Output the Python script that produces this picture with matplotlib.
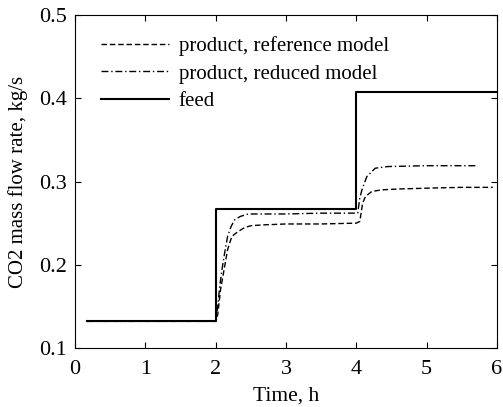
import matplotlib
matplotlib.use("Agg")
import matplotlib.pyplot as plt

plt.rcParams['font.family'] = 'Liberation Serif'
plt.rcParams['font.size'] = 15

# feed (step input)
t_feed = [0.17, 2.0, 2.0, 4.0, 4.0, 6.0]
feed = [0.132, 0.132, 0.267, 0.267, 0.408, 0.408]

# product, reference model
t_ref = [0.17, 2.0, 2.03, 2.07, 2.12, 2.17, 2.23, 2.32, 2.42, 2.51, 2.7, 3.0, 3.5, 4.0, 4.05,
         4.09, 4.13, 4.22, 4.36, 4.6, 5.0, 5.5, 5.94]
ref = [0.132, 0.132, 0.14, 0.17, 0.194, 0.218, 0.234, 0.240, 0.245, 0.247, 0.248, 0.249, 0.249,
       0.250, 0.252, 0.274, 0.282, 0.288, 0.290, 0.291, 0.292, 0.293, 0.293]

# product, reduced model
t_red = [0.17, 2.0, 2.03, 2.06, 2.09, 2.13, 2.17, 2.22, 2.27, 2.35, 2.46, 2.7, 3.0, 3.5, 4.02,
         4.05, 4.08, 4.15, 4.27, 4.45, 5.0, 5.73]
red = [0.132, 0.132, 0.15, 0.175, 0.194, 0.215, 0.234, 0.246, 0.254, 0.258, 0.261, 0.261, 0.261,
       0.262, 0.262, 0.28, 0.290, 0.306, 0.316, 0.318, 0.319, 0.319]

fig = plt.figure(figsize=(5.03, 4.07), dpi=100)
ax = fig.add_axes([0.149, 0.145, 0.839, 0.818])

ax.plot(t_ref, ref, color='black', linestyle='--', linewidth=1.0, dashes=(4, 2),
        label='product, reference model')
ax.plot(t_red, red, color='black', linestyle='-.', linewidth=1.0, dashes=(5, 2, 1, 2),
        label='product, reduced model')
ax.plot(t_feed, feed, color='black', linestyle='-', linewidth=1.5, label='feed')

ax.set_xlim(0, 6)
ax.set_ylim(0.1, 0.5)
ax.set_xticks([0, 1, 2, 3, 4, 5, 6])
ax.set_yticks([0.1, 0.2, 0.3, 0.4, 0.5])
ax.tick_params(direction='in', top=True, right=True, length=4, labelsize=16)
ax.tick_params(axis='x', pad=9)
ax.tick_params(axis='y', pad=6)
ax.set_xlabel('Time, h', fontsize=15.5, labelpad=5)
ax.set_ylabel('CO2 mass flow rate, kg/s', fontsize=15, labelpad=8)

ax.legend(loc='upper left', bbox_to_anchor=(0.036, 0.968), frameon=False, fontsize=15,
          handlelength=3.3, handletextpad=0.45, labelspacing=0.38, borderpad=0)

fig.savefig('out.png', dpi=100)
